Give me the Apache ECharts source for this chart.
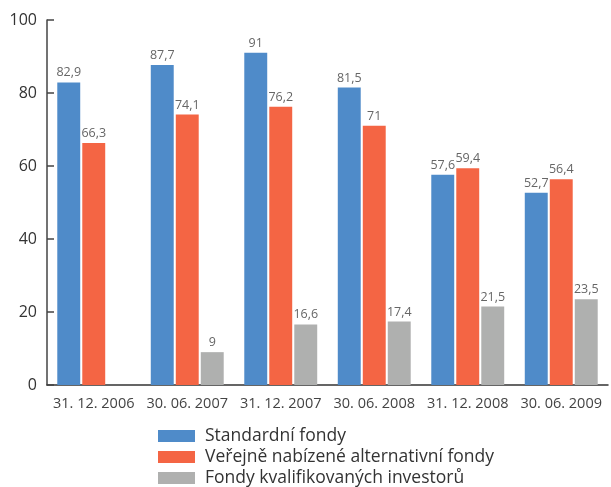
<!DOCTYPE html>
<html><head><meta charset="utf-8">
<script src="https://cdn.jsdelivr.net/npm/echarts@6/dist/echarts.min.js"></script>
<style>html,body{margin:0;padding:0;background:#fff}#c{width:611px;height:487px}</style>
</head><body><div id="c"></div>
<script>
const categories = ['31. 12. 2006','30. 06. 2007','31. 12. 2007','30. 06. 2008','31. 12. 2008','30. 06. 2009'];
const standardni = [82.9, 87.7, 91, 81.5, 57.6, 52.7];
const verejne = [66.3, 74.1, 76.2, 71, 59.4, 56.4];
const kvalifikovani = [null, 9, 16.6, 17.4, 21.5, 23.5];
const seriesNames = ['Standardní fondy','Veřejně nabízené alternativní fondy','Fondy kvalifikovaných investorů'];
const colors = ['#4F8BC9','#F46544','#AFB0AF'];
const font = '"Open Sans", "Noto Sans", sans-serif';
const chart = echarts.init(document.getElementById('c'));
const fmt = p => p.value == null ? '' : String(p.value).replace('.', ',');
const mk = (name, data, color) => ({
  name, type: 'bar', data, barGap: '9%', barCategoryGap: '22%',
  itemStyle: {color},
  label: {show: true, position: 'top', distance: 3, formatter: fmt, color: '#666', fontSize: 12.5, fontFamily: font}
});
chart.setOption({
  animation: false,
  textStyle: {fontFamily: font},
  grid: {left: 47, right: 3, top: 20, bottom: 102, containLabel: false},
  legend: {
    orient: 'vertical', left: 158, top: 425.5, height: 80, padding: 0, itemWidth: 37, itemHeight: 12, itemGap: 0,
    icon: 'rect', data: seriesNames,
    textStyle: {fontSize: 17.5, lineHeight: 21, color: '#333', fontFamily: font, padding: [0,0,0,5]}
  },
  xAxis: {
    type: 'category', data: categories,
    axisLine: {lineStyle: {color: '#333', width: 1.5}},
    axisTick: {show: false},
    axisLabel: {interval: 0, color: '#444', fontSize: 14.5, margin: 11, fontFamily: font}
  },
  yAxis: {
    type: 'value', min: 0, max: 100, interval: 20,
    splitLine: {show: false},
    axisLine: {show: true, lineStyle: {color: '#444', width: 1.5}},
    axisTick: {show: true, inside: true, length: 7, lineStyle: {color: '#444', width: 1.5}},
    axisLabel: {color: '#333', fontSize: 16, margin: 10, fontFamily: font}
  },
  series: [mk(seriesNames[0], standardni, colors[0]), mk(seriesNames[1], verejne, colors[1]), mk(seriesNames[2], kvalifikovani, colors[2])]
});
</script></body></html>
